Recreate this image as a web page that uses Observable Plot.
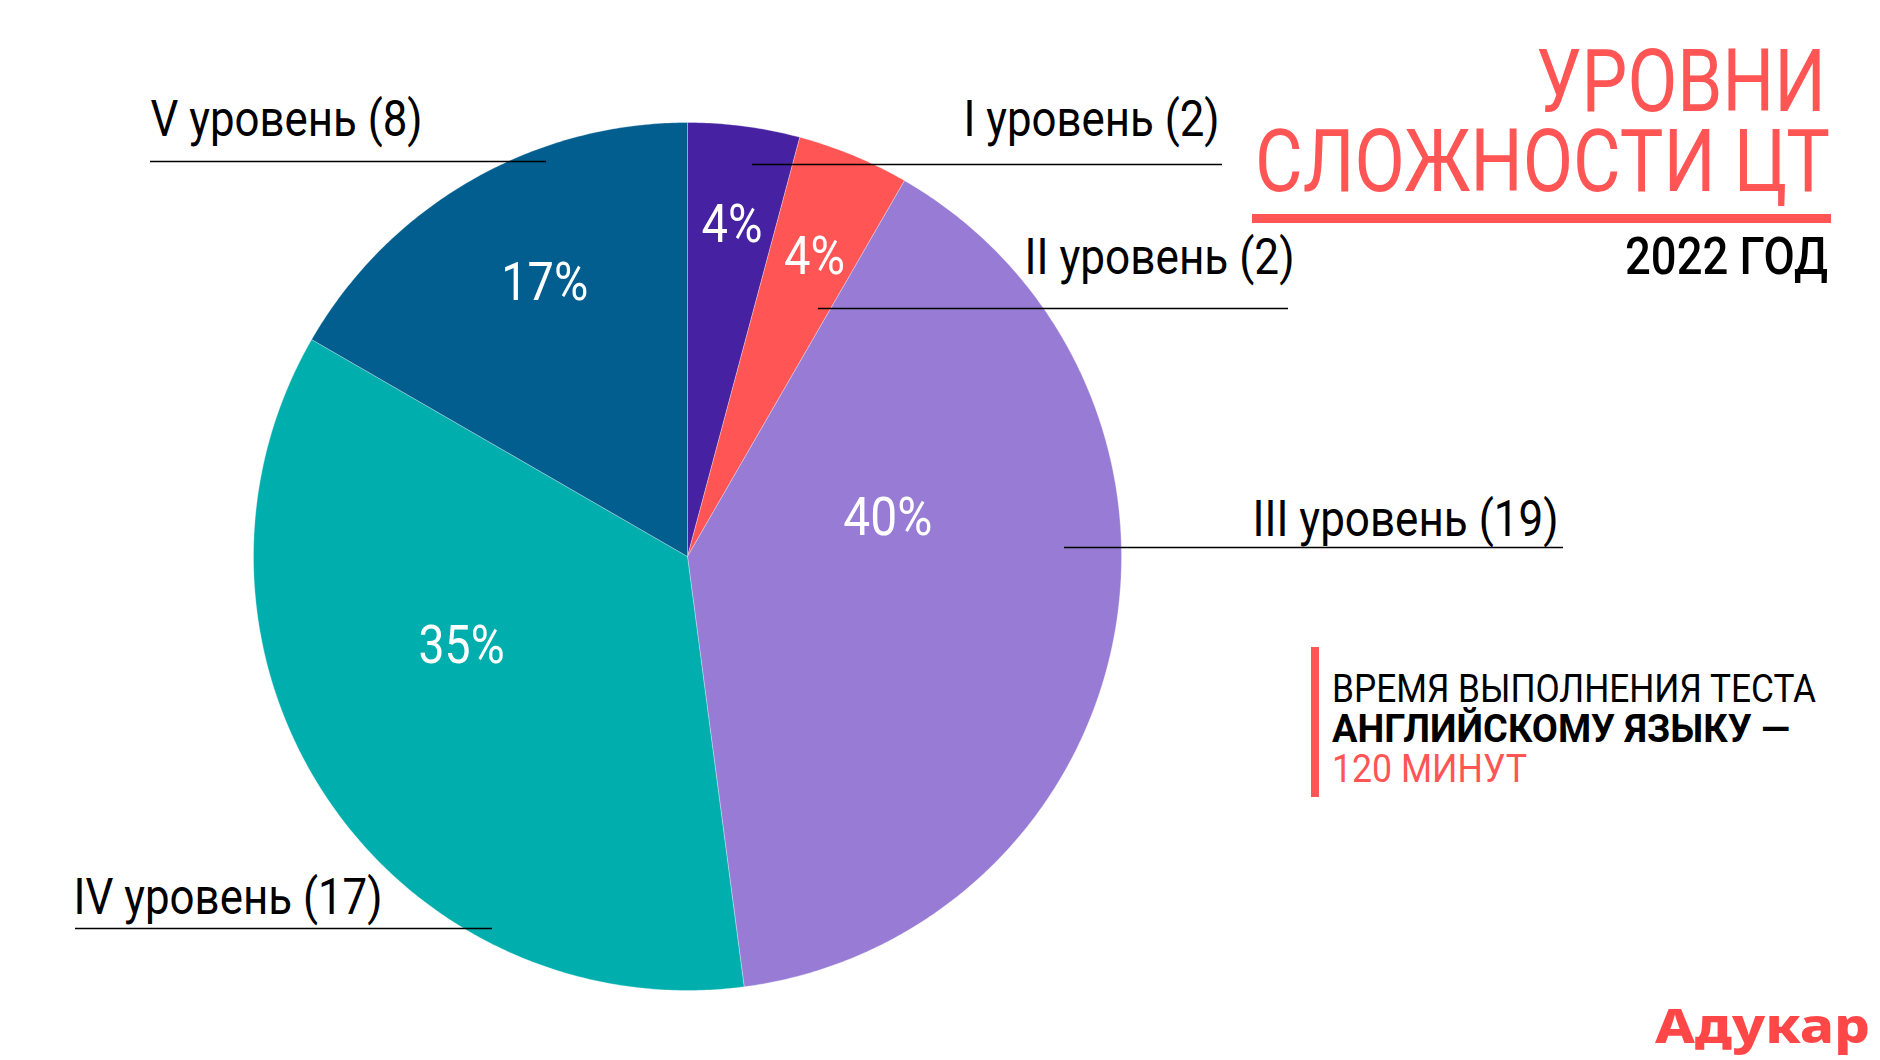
<!DOCTYPE html>
<html><head><meta charset="utf-8">
<script src="https://cdn.jsdelivr.net/npm/d3@7"></script>
<script src="https://cdn.jsdelivr.net/npm/@observablehq/plot@0.6"></script>
<style>
html,body{margin:0;padding:0;background:#fff;}
#wrap{position:relative;width:1880px;height:1060px;overflow:hidden;font-family:Roboto,"Liberation Sans",sans-serif;}
#chart{position:absolute;left:0;top:0;}
#overlay{position:absolute;left:0;top:0;pointer-events:none;}
.abs{position:absolute;}
#rule{left:1252px;top:214px;width:579px;height:9px;background:#FF5555;}
#bar{left:1311px;top:647px;width:8px;height:150px;background:#FF5555;}
</style></head><body>
<div id="wrap">
<div id="chart"></div>
<div id="rule" class="abs"></div>
<div id="bar" class="abs"></div>
</div>
<script>
// ---- data ----
const levels = ["I уровень", "II уровень", "III уровень", "IV уровень", "V уровень"];
const counts = [2, 2, 19, 17, 8];
const colors = ["#4621A1", "#FF5555", "#977BD5", "#00AEAE", "#015E8E"];
const titleLines = ["УРОВНИ", "СЛОЖНОСТИ ЦТ"];
const yearText = "2022 ГОД";
const noteLines = ["ВРЕМЯ ВЫПОЛНЕНИЯ ТЕСТА", "АНГЛИЙСКОМУ ЯЗЫКУ —", "120 МИНУТ"];
const logoText = "Адукар";

// ---- layout (pixels) ----
const pie = {cx: 687, cy: 556, r: 434};
// percent label placement: fraction of radius, fraction along slice angle, target width
const pctPlace = [
  {k: 0.77, t: 0.51, w: 61}, {k: 0.75, t: 0.53, w: 62}, {k: 0.47, t: 0.345, w: 89},
  {k: 0.56, t: 0.595, w: 86}, {k: 0.71, t: 0.54, w: 87}
];
// callout labels: text anchor point, target width, and leader rule
const callouts = [
  {x: 1219, y: 135, anchor: "end", w: 256, x1: 752, x2: 1222, ry: 164},
  {x: 1294, y: 273, anchor: "end", w: 270, x1: 818, x2: 1288, ry: 308},
  {x: 1558, y: 535, anchor: "end", w: 306, x1: 1064, x2: 1563, ry: 547},
  {x: 73, y: 913, anchor: "start", w: 309, x1: 75, x2: 492, ry: 928},
  {x: 150, y: 135, anchor: "start", w: 272, x1: 150, x2: 546, ry: 161}
];
// header / note / logo text placement (baseline, anchor x, target width)
const textLayout = [
  {text: titleLines[0], x: 1826, y: 111, anchor: "end", w: 290, size: 87, color: "#FF5555"},
  {text: titleLines[1], x: 1830, y: 191, anchor: "end", w: 575, size: 87, color: "#FF5555"},
  {text: yearText, x: 1828, y: 274, anchor: "end", w: 203, size: 51, weight: 500},
  {text: noteLines[0], x: 1332, y: 702, anchor: "start", w: 484, size: 38},
  {text: noteLines[1], x: 1332, y: 742, anchor: "start", w: 458, size: 38, weight: 700},
  {text: noteLines[2], x: 1332, y: 782, anchor: "start", w: 195, size: 38, color: "#FF5555"},
  {text: logoText, x: 1655, y: 1043, anchor: "start", w: 215, size: 48, weight: 800, color: "#FF4747", family: '"Noto Sans",sans-serif'}
];

const total = d3.sum(counts);
const rows = levels.map((level, i) => ({level, count: counts[i]}));
const arcs = d3.pie().sort(null).value(d => d.count)(rows);

const pt = (a, k) => [pie.cx + pie.r * k * Math.sin(a), pie.cy - pie.r * k * Math.cos(a)];

const poly = [];
arcs.forEach(a => {
  const c = pt(0, 0);
  poly.push({level: a.data.level, x: c[0], y: c[1]});
  const n = Math.max(4, Math.ceil((a.endAngle - a.startAngle) / (Math.PI / 360)));
  for (let j = 0; j <= n; j++) {
    const ang = a.startAngle + (a.endAngle - a.startAngle) * j / n;
    const p = pt(ang, 1);
    poly.push({level: a.data.level, x: p[0], y: p[1]});
  }
  poly.push({level: a.data.level, x: c[0], y: c[1]});
});

const pcts = arcs.map((a, i) => {
  const ang = a.startAngle + (a.endAngle - a.startAngle) * pctPlace[i].t;
  const p = pt(ang, pctPlace[i].k);
  return {x: p[0], y: p[1], w: pctPlace[i].w, text: Math.round(100 * a.data.count / total) + "%"};
});

const labels = rows.map((d, i) => ({...callouts[i], text: `${d.level} (${d.count})`}));
const labelsEnd = labels.filter(d => d.anchor === "end");
const labelsStart = labels.filter(d => d.anchor === "start");

const font = 'Roboto,"Liberation Sans",sans-serif';

const chart = Plot.plot({
  width: 1880, height: 1060, margin: 0,
  x: {domain: [0, 1880], range: [0, 1880], axis: null},
  y: {domain: [0, 1060], range: [0, 1060], axis: null},
  color: {domain: levels, range: colors},
  style: {fontFamily: font, background: "transparent"},
  marks: [
    Plot.line(poly, {x: "x", y: "y", z: "level", fill: "level", stroke: "white", strokeWidth: 0.6, strokeOpacity: 0.5}),
    Plot.text(pcts, {x: "x", y: "y", text: "text", fill: "white", fontSize: 53, fontFamily: font, lineAnchor: "middle"}),
    Plot.text(labelsEnd, {x: "x", y: "y", text: "text", textAnchor: "end", fill: "black", fontSize: 50, fontFamily: font, lineAnchor: "bottom"}),
    Plot.text(labelsStart, {x: "x", y: "y", text: "text", textAnchor: "start", fill: "black", fontSize: 50, fontFamily: font, lineAnchor: "bottom"}),
    Plot.ruleY(labels, {y: "ry", x1: "x1", x2: "x2", stroke: "black", strokeWidth: 1.3})
  ]
});
document.getElementById("chart").appendChild(chart);

// condense SVG texts to the reference's narrow type (matched by their text)
const widthByText = new Map();
[...pcts, ...labels].forEach(d => { if (!widthByText.has(d.text)) widthByText.set(d.text, d.w); });
chart.querySelectorAll("text").forEach(t => {
  const w = widthByText.get(t.textContent);
  if (w) { t.setAttribute("textLength", w); t.setAttribute("lengthAdjust", "spacingAndGlyphs"); }
});

// header, note and logo as SVG text overlay, placed by baseline
const overlay = d3.select("#wrap").append("svg")
  .attr("id", "overlay").attr("width", 1880).attr("height", 1060);
overlay.selectAll("text").data(textLayout).join("text")
  .attr("x", d => d.x).attr("y", d => d.y)
  .attr("text-anchor", d => d.anchor)
  .attr("font-family", d => d.family || font)
  .attr("font-size", d => d.size)
  .attr("font-weight", d => d.weight || 400)
  .attr("fill", d => d.color || "#000")
  .attr("textLength", d => d.w)
  .attr("lengthAdjust", "spacingAndGlyphs")
  .text(d => d.text);
</script>
</body></html>
